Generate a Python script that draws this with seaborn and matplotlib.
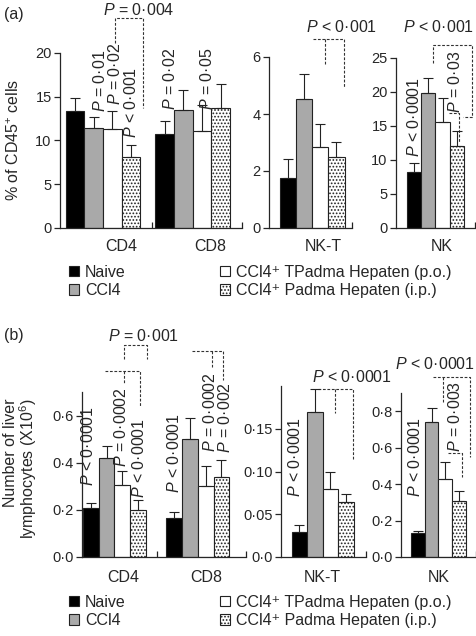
import numpy as np
import pandas as pd
import seaborn as sns
import matplotlib.pyplot as plt
from matplotlib.patches import Patch

sns.set_style('ticks')
plt.rcParams['font.family'] = ['Liberation Sans', 'DejaVu Sans']
plt.rcParams['mathtext.fontset'] = 'custom'
plt.rcParams['mathtext.rm'] = 'Liberation Sans'
plt.rcParams['mathtext.it'] = 'Liberation Sans:italic'
plt.rcParams['font.size'] = 11.5
plt.rcParams['hatch.linewidth'] = 0.8
plt.rcParams['axes.linewidth'] = 0.9

groups = ['Naive', 'CCl4', 'TPadma p.o.', 'Padma i.p.']
legend_labels = ['Naive', 'CCl4', 'CCl4⁺ TPadma Hepaten (p.o.)',
                 'CCl4⁺ Padma Hepaten (i.p.)']
colors = ['#000000', '#a9a9a9', '#ffffff', '#ffffff']

# (a) % of CD45+ cells
pct_cd4 = [13.4, 11.4, 11.3, 8.1]
pct_cd4_err = [1.5, 1.3, 2.1, 1.4]
pct_cd8 = [10.7, 13.5, 11.1, 13.7]
pct_cd8_err = [1.5, 2.3, 2.9, 2.8]
pct_nkt = [1.75, 4.52, 2.85, 2.48]
pct_nkt_err = [0.68, 0.9, 0.8, 0.52]
pct_nk = [8.3, 19.8, 15.6, 12.0]
pct_nk_err = [1.3, 2.2, 3.5, 2.3]

# (b) number of liver lymphocytes (x10^6)
num_cd4 = [0.21, 0.42, 0.305, 0.20]
num_cd4_err = [0.02, 0.05, 0.06, 0.04]
num_cd8 = [0.165, 0.50, 0.30, 0.34]
num_cd8_err = [0.025, 0.09, 0.085, 0.07]
num_nkt = [0.029, 0.17, 0.08, 0.064]
num_nkt_err = [0.009, 0.027, 0.019, 0.01]
num_nk = [0.13, 0.74, 0.43, 0.305]
num_nk_err = [0.015, 0.08, 0.09, 0.055]

W, H = 477, 636
fig = plt.figure(figsize=(W / 100, H / 100), dpi=100)
fig.patch.set_facecolor('white')
EDGE = '#222222'
DASH = (0, (2.5, 1.5))


def add_ax(l, r, b, t):
    return fig.add_axes([l / W, 1 - b / H, (r - l) / W, (b - t) / H])


def bars(ax, cats, means, errs, width, xlim, ylim, yticks, ylabels, xticks, label_dx, label_pad):
    df = pd.DataFrame({'cell': np.repeat(cats, 4), 'group': groups * len(cats),
                       'value': np.concatenate(means), 'err': np.concatenate(errs)})
    sns.barplot(data=df, x='cell', y='value', hue='group', hue_order=groups,
                palette=colors, saturation=1, width=width, edgecolor=EDGE,
                linewidth=0.8, errorbar=None, legend=False, ax=ax)
    for cont, g in zip(ax.containers, groups):
        sub = df[df['group'] == g]
        xs = [p.get_x() + p.get_width() / 2 for p in cont.patches]
        ax.errorbar(xs, sub['value'], yerr=[np.zeros(len(sub)), sub['err']],
                    fmt='none', ecolor=EDGE, elinewidth=0.8, capsize=3.5,
                    capthick=0.8, clip_on=False, zorder=3)
    for p in ax.containers[3].patches:
        p.set_hatch('.....')
    ax.set_xlim(*xlim)
    ax.set_ylim(*ylim)
    ax.set_yticks(yticks)
    ax.set_yticklabels(ylabels, fontsize=10.5)
    ax.set_xticks(xticks)
    ax.set_xticklabels([''] * len(xticks))
    ax.tick_params(axis='x', direction='in', length=4, width=0.9, colors=EDGE)
    ax.tick_params(axis='y', direction='out', length=4, width=0.9, pad=2)
    ax.set(xlabel='', ylabel='')
    sns.despine(ax=ax)
    for i, c in enumerate(cats):
        ax.annotate(c, xy=(i + label_dx, 0), xycoords=('data', 'axes fraction'),
                    xytext=(0, -label_pad), textcoords='offset points',
                    ha='center', va='center')


def ptext(ax, x, y, s):
    ax.text(x, y, s, rotation=90, ha='center', va='bottom', clip_on=False)


def htext(ax, x, y, s):
    ax.text(x, y, s, ha='center', va='center', clip_on=False)


def line(ax, pts):
    xs, ys = zip(*pts)
    ax.plot(xs, ys, color='#333333', lw=0.8, ls=DASH, clip_on=False)


# ---------- panel (a) ----------
a1 = add_ax(60, 242, 228, 53)
bars(a1, ['CD4', 'CD8'], [pct_cd4, pct_cd8], [pct_cd4_err, pct_cd8_err], 0.83,
     (-0.48, 1.55), (0, 20), [0, 5, 10, 15, 20], ['0', '5', '10', '15', '20'],
     [0.55, 1.55], 0.2, 13)
ptext(a1, -0.03, 13.3, '$P$ = 0·01')
ptext(a1, 0.13, 14.1, '$P$ = 0·02')
ptext(a1, 0.31, 10.3, '$P$ < 0·001')
ptext(a1, 0.75, 13.5, '$P$ = 0·02')
ptext(a1, 1.16, 13.5, '$P$ = 0·05')
line(a1, [(0.134, 21.1), (0.134, 24.0), (0.447, 24.0), (0.447, 13.7)])
htext(a1, 0.40, 24.9, '$P$ = 0·004')

a2 = add_ax(269, 352, 228, 57)
bars(a2, ['NK-T'], [pct_nkt], [pct_nkt_err], 0.78,
     (-0.52, 0.48), (0, 6), [0, 2, 4, 6], ['0', '2', '4', '6'],
     [0.48], 0.13, 13)
line(a2, [(0.006, 6.63), (0.38, 6.63), (0.38, 4.95)])
line(a2, [(0.15, 6.63), (0.15, 5.72)])
htext(a2, 0.355, 7.05, '$P$ < 0·001')

a3 = add_ax(396, 475, 228, 58)
bars(a3, ['NK'], [pct_nk], [pct_nk_err], 0.73,
     (-0.5, 0.5), (0, 25), [0, 5, 10, 15, 20, 25], ['0', '5', '10', '15', '20', '25'],
     [0.5], 0.08, 13)
ptext(a3, -0.27, 10.4, '$P$ < 0·0001')
ptext(a3, 0.25, 16.9, '$P$ = 0·03')
line(a3, [(-0.032, 24.3), (-0.032, 26.9), (0.462, 26.9), (0.462, 16.3), (0.348, 16.3)])
line(a3, [(0.17, 16.9), (0.30, 16.9), (0.30, 12.6)])
htext(a3, 0.044, 29.6, '$P$ < 0·001')

fig.text(4 / W, 1 - 15 / H, '(a)', ha='left', va='center')
fig.text(14 / W, 1 - 140 / H, '% of CD45$^{+}$ cells', rotation=90, ha='center', va='center')

# ---------- panel (b) ----------
b1 = add_ax(82, 246, 557, 392)
bars(b1, ['CD4', 'CD8'], [num_cd4, num_cd8], [num_cd4_err, num_cd8_err], 0.76,
     (-0.39, 1.58), (0, 0.7), [0, 0.2, 0.4, 0.6], ['0·0', '0·2', '0·4', '0·6'],
     [0.51, 1.58], 0.1, 14.5)
ptext(b1, -0.32, 0.30, '$P$ < 0·0001')
ptext(b1, 0.08, 0.38, '$P$ = 0·0002')
ptext(b1, 0.30, 0.25, '$P$ < 0·0001')
ptext(b1, 0.72, 0.27, '$P$ < 0·0001')
ptext(b1, 1.15, 0.447, '$P$ = 0·0002')
ptext(b1, 1.33, 0.44, '$P$ = 0·002')
line(b1, [(0.114, 0.838), (0.114, 0.898), (0.39, 0.898), (0.39, 0.838)])
line(b1, [(-0.114, 0.791), (0.307, 0.791), (0.307, 0.638)])
line(b1, [(0.114, 0.791), (0.114, 0.740)])
line(b1, [(0.934, 0.872), (1.307, 0.872), (1.307, 0.753)])
line(b1, [(1.175, 0.872), (1.175, 0.804)])
htext(b1, 0.355, 0.936, '$P$ = 0·001')

b2 = add_ax(281, 366, 557, 386)
bars(b2, ['NK-T'], [num_nkt], [num_nkt_err], 0.73,
     (-0.49, 0.51), (0, 0.2), [0, 0.05, 0.10, 0.15], ['0·0', '0·05', '0·10', '0·15'],
     [0.51], 0.0, 14.5)
ptext(b2, -0.32, 0.070, '$P$ < 0·0001')
line(b2, [(-0.05, 0.197), (0.353, 0.197), (0.353, 0.114)])
line(b2, [(0.14, 0.197), (0.14, 0.169)])
htext(b2, 0.34, 0.21, '$P$ < 0·0001')

b3 = add_ax(401, 476, 557, 393)
bars(b3, ['NK'], [num_nk], [num_nk_err], 0.73,
     (-0.5, 0.5), (0, 0.9), [0, 0.2, 0.4, 0.6, 0.8], ['0·0', '0·2', '0·4', '0·6', '0·8'],
     [0.5], 0.0, 14.5)
ptext(b3, -0.31, 0.33, '$P$ < 0·0001')
ptext(b3, 0.22, 0.575, '$P$ = 0·003')
line(b3, [(-0.073, 0.99), (0.42, 0.99), (0.42, 0.548)])
line(b3, [(0.06, 0.99), (0.06, 0.85)])
line(b3, [(0.127, 0.57), (0.313, 0.57), (0.313, 0.438)])
htext(b3, -0.05, 1.06, '$P$ < 0·0001')

fig.text(4 / W, 1 - 335 / H, '(b)', ha='left', va='center')
fig.text(21 / W, 1 - 469 / H, 'Number of liver\nlymphocytes (X10$^{6}$)', rotation=90,
         ha='center', va='center', multialignment='right', linespacing=1.0)

# ---------- legends ----------
handles = [Patch(facecolor=c, edgecolor=EDGE, lw=0.8, hatch='.....' if i == 3 else None)
           for i, c in enumerate(colors)]
for top in (265, 595):
    fig.legend(handles, legend_labels, ncol=2, loc='upper left',
               bbox_to_anchor=(69 / W, 1 - top / H), frameon=False,
               handlelength=0.6, handleheight=0.6, handletextpad=0.4,
               columnspacing=5.9, labelspacing=0.2, borderpad=0, borderaxespad=0)

fig.savefig('out.png', dpi=100)
